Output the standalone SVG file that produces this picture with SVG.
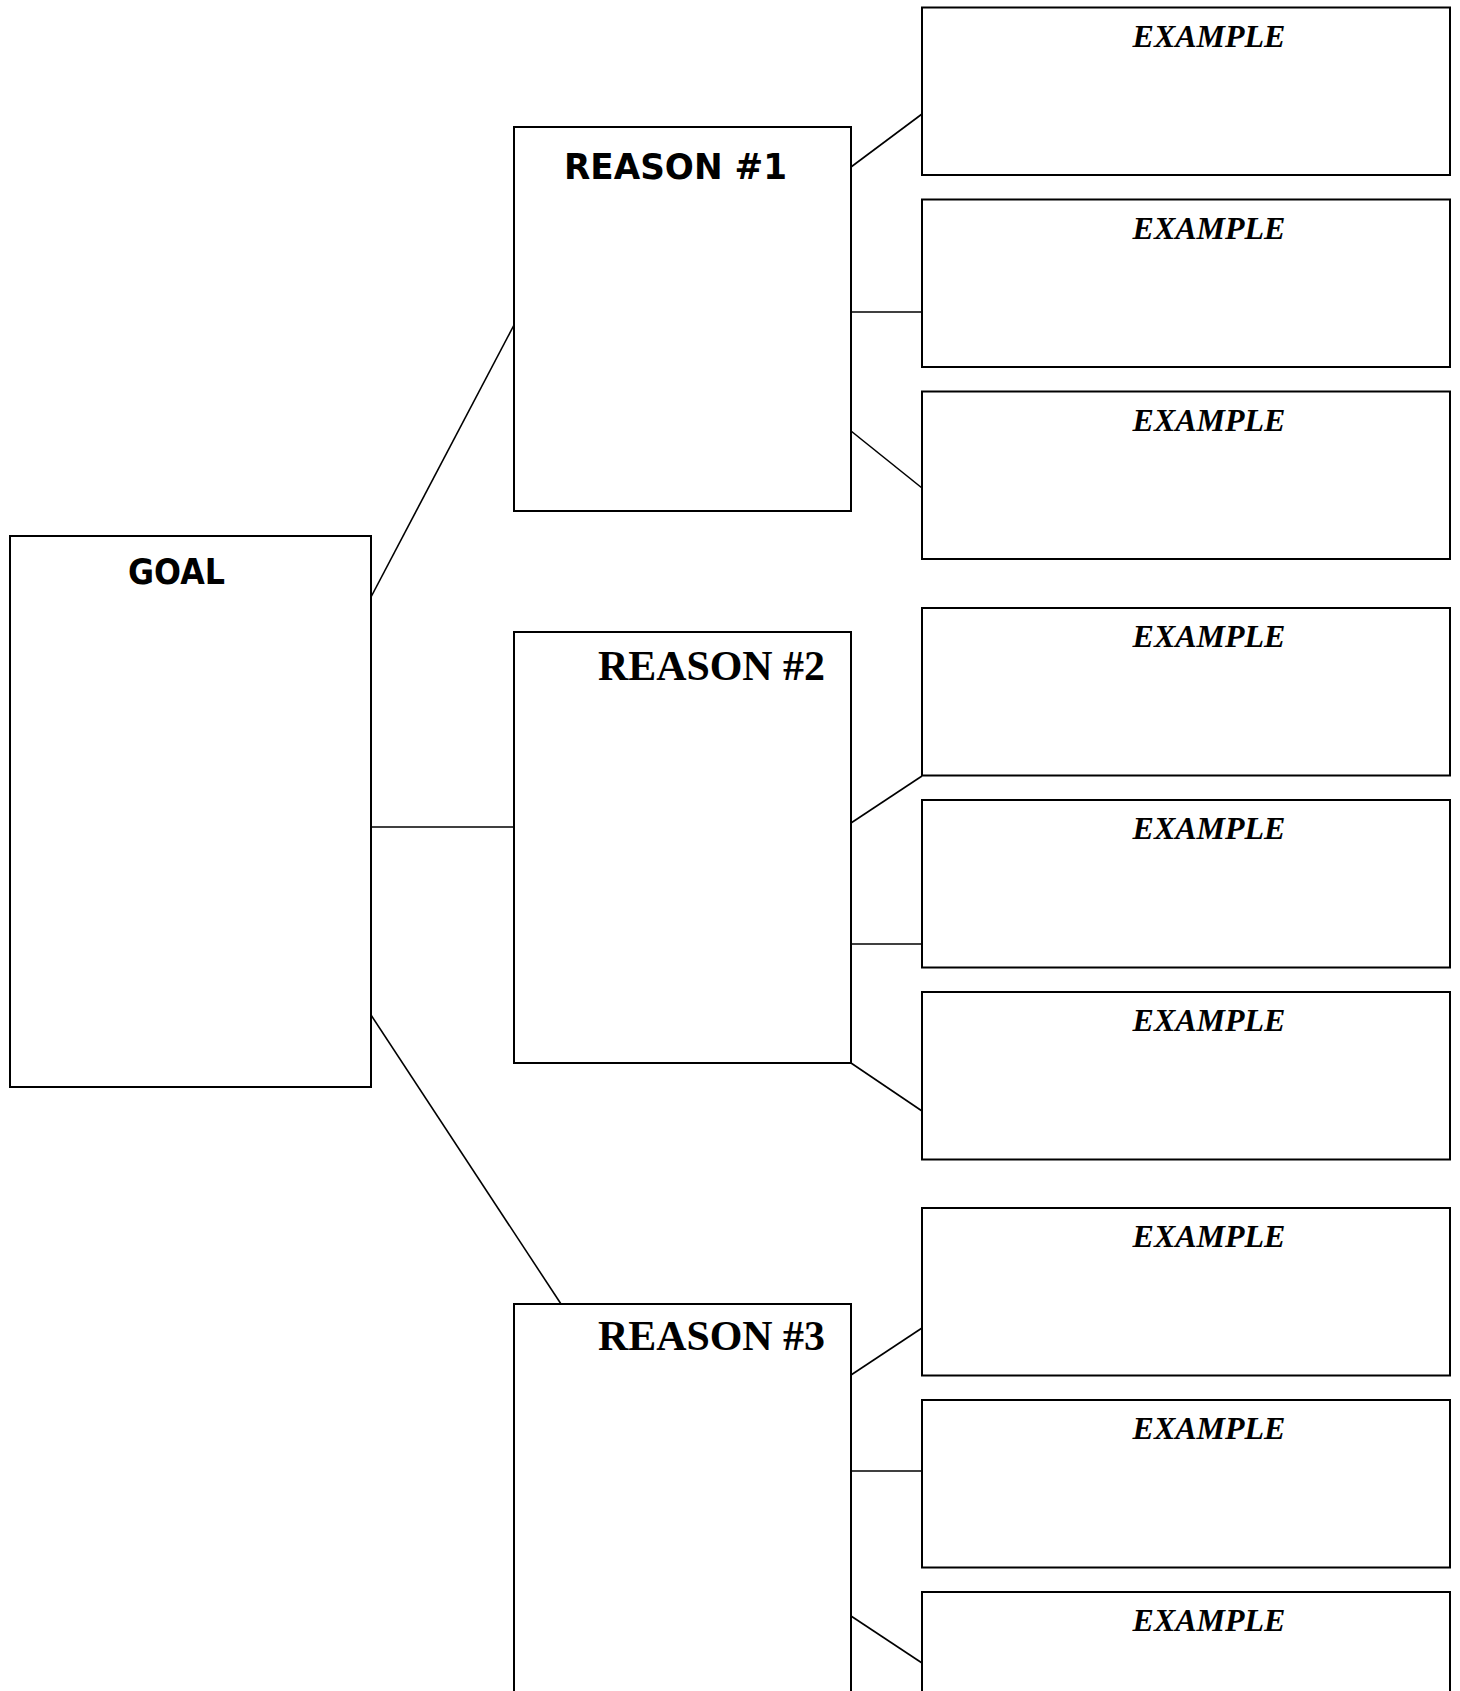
<svg xmlns="http://www.w3.org/2000/svg" width="1460" height="1691" viewBox="0 0 1460 1691">
<style>
.box{fill:#fff;stroke:#000;stroke-width:2}
.ln{stroke:#000;stroke-width:1.6;fill:none}
.comic{font-family:"DejaVu Sans",sans-serif;font-weight:bold;font-size:36px;fill:#000}
.times{font-family:"Liberation Serif","Times New Roman",serif;font-weight:bold;font-size:42px;fill:#000}
.ex{font-family:"Liberation Serif","Times New Roman",serif;font-weight:bold;font-style:italic;font-size:32px;fill:#000;text-anchor:middle}
</style>
<rect width="1460" height="1691" fill="#fff"/>
<g id="connectors">
<line class="ln" x1="371" y1="597" x2="514" y2="325"/>
<line class="ln" x1="371" y1="827" x2="514" y2="827"/>
<line class="ln" x1="371" y1="1015" x2="561" y2="1304"/>
<line class="ln" x1="851" y1="167" x2="922" y2="114"/>
<line class="ln" x1="851" y1="312" x2="922" y2="312"/>
<line class="ln" x1="851" y1="431" x2="922" y2="488"/>
<line class="ln" x1="851" y1="823" x2="922" y2="776"/>
<line class="ln" x1="851" y1="944" x2="922" y2="944"/>
<line class="ln" x1="851" y1="1063" x2="922" y2="1111"/>
<line class="ln" x1="851" y1="1375" x2="922" y2="1328"/>
<line class="ln" x1="851" y1="1471" x2="922" y2="1471"/>
<line class="ln" x1="851" y1="1616" x2="922" y2="1663"/>
</g>
<g id="goal">
<rect class="box" x="10" y="536" width="361" height="551"/>
<text class="comic" x="128" y="584" textLength="97" lengthAdjust="spacingAndGlyphs">GOAL</text>
</g>
<g id="reason1">
<rect class="box" x="514" y="127" width="337" height="384"/>
<text class="comic" x="564" y="179" textLength="223" lengthAdjust="spacingAndGlyphs">REASON #1</text>
</g>
<g id="reason2">
<rect class="box" x="514" y="632" width="337" height="431"/>
<text class="times" x="598" y="680" textLength="227" lengthAdjust="spacingAndGlyphs">REASON #2</text>
</g>
<g id="reason3">
<rect class="box" x="514" y="1304" width="337" height="420"/>
<text class="times" x="598" y="1350" textLength="227" lengthAdjust="spacingAndGlyphs">REASON #3</text>
</g>
<g id="example1"><rect class="box" x="922" y="7.5" width="528" height="167.5"/><text class="ex" x="1209" y="46.5">EXAMPLE</text></g>
<g id="example2"><rect class="box" x="922" y="199.5" width="528" height="167.5"/><text class="ex" x="1209" y="238.5">EXAMPLE</text></g>
<g id="example3"><rect class="box" x="922" y="391.5" width="528" height="167.5"/><text class="ex" x="1209" y="430.5">EXAMPLE</text></g>
<g id="example4"><rect class="box" x="922" y="608" width="528" height="167.5"/><text class="ex" x="1209" y="647">EXAMPLE</text></g>
<g id="example5"><rect class="box" x="922" y="800" width="528" height="167.5"/><text class="ex" x="1209" y="839">EXAMPLE</text></g>
<g id="example6"><rect class="box" x="922" y="992" width="528" height="167.5"/><text class="ex" x="1209" y="1031">EXAMPLE</text></g>
<g id="example7"><rect class="box" x="922" y="1208" width="528" height="167.5"/><text class="ex" x="1209" y="1247">EXAMPLE</text></g>
<g id="example8"><rect class="box" x="922" y="1400" width="528" height="167.5"/><text class="ex" x="1209" y="1439">EXAMPLE</text></g>
<g id="example9"><rect class="box" x="922" y="1592" width="528" height="167.5"/><text class="ex" x="1209" y="1631">EXAMPLE</text></g>
</svg>
